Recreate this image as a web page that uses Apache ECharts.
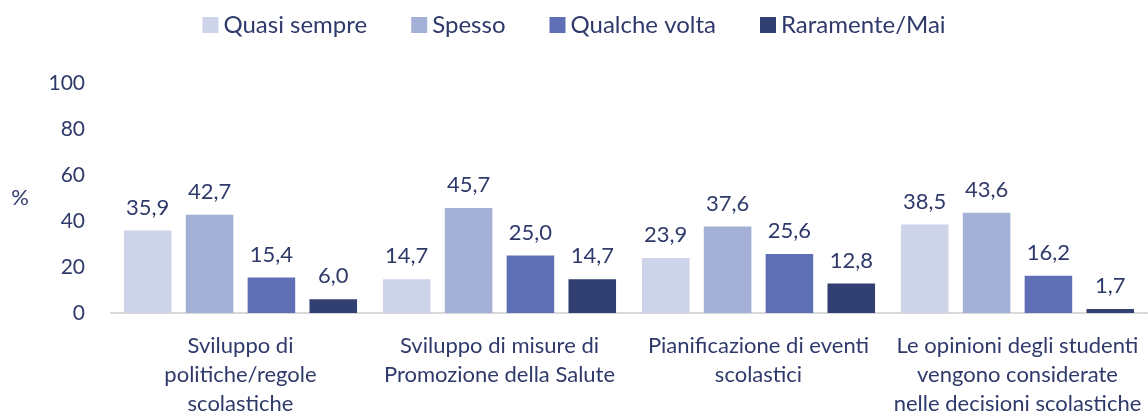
<!DOCTYPE html>
<html>
<head>
<meta charset="utf-8">
<script src="https://cdn.jsdelivr.net/npm/echarts@6/dist/echarts.min.js"></script>
<style>
    html, body { margin: 0; padding: 0; background: #fff; }
    #chart { width: 1148px; height: 418px; }
</style>
</head>
<body>
<div id="chart"></div>
<script>
    // categorie (asse x)
    const categories = [
        "Sviluppo di\npolitiche/regole\nscolastiche",
        "Sviluppo di misure di\nPromozione della Salute",
        "Pianificazione di eventi\nscolastici",
        "Le opinioni degli studenti\nvengono considerate\nnelle decisioni scolastiche"
    ];
    const seriesNames = ["Quasi sempre", "Spesso", "Qualche volta", "Raramente/Mai"];
    const quasiSempre = [35.9, 14.7, 23.9, 38.5];
    const spesso = [42.7, 45.7, 37.6, 43.6];
    const qualcheVolta = [15.4, 25.0, 25.6, 16.2];
    const raramente = [6.0, 14.7, 12.8, 1.7];
    const yTicks = [0, 20, 40, 60, 80, 100];

    const colors = ["#CDD3E8", "#A4B0D6", "#5F6FB6", "#323F71"];
    const textColor = "#2F3A6B";
    const font = "Lato, 'Open Sans', sans-serif";

    const chart = echarts.init(document.getElementById("chart"));
    const values = [quasiSempre, spesso, qualcheVolta, raramente];

    const option = {
        animation: false,
        textStyle: { fontFamily: font },
        legend: {
            data: seriesNames,
            top: 8,
            left: "center",
            itemWidth: 16,
            itemHeight: 16,
            itemGap: 44,
            icon: "rect",
            textStyle: { color: textColor, fontSize: 24, fontFamily: font }
        },
        grid: { left: 111, right: 1, top: 83, bottom: 101, containLabel: false },
        xAxis: {
            type: "category",
            data: categories,
            axisTick: { show: false },
            axisLine: { lineStyle: { color: "#D9D9D9", width: 2 } },
            axisLabel: {
                color: textColor,
                fontSize: 22,
                lineHeight: 29,
                margin: 18,
                interval: 0,
                fontFamily: font
            }
        },
        yAxis: {
            type: "value",
            min: 0,
            max: yTicks[yTicks.length - 1],
            interval: 20,
            name: "%",
            nameLocation: "middle",
            nameRotate: 0,
            nameGap: 82,
            nameTextStyle: { color: textColor, fontSize: 22, fontFamily: font },
            splitLine: { show: false },
            axisLine: { show: false },
            axisTick: { show: false },
            axisLabel: { color: textColor, fontSize: 21, margin: 26, fontFamily: font }
        },
        series: seriesNames.map((name, i) => ({
            name: name,
            type: "bar",
            data: values[i],
            barGap: "30%",
            barCategoryGap: "10%",
            itemStyle: { color: colors[i] },
            label: {
                show: true,
                position: "top",
                distance: 12,
                color: textColor,
                fontSize: 22,
                fontFamily: font,
                formatter: (p) => p.value.toFixed(1).replace(".", ",")
            }
        }))
    };
    chart.setOption(option);
</script>
</body>
</html>
